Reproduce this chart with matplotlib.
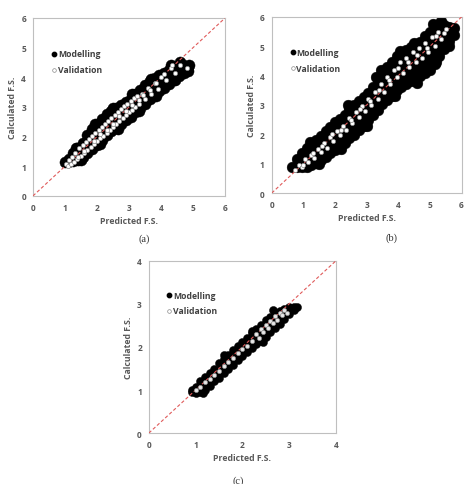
import matplotlib
matplotlib.use("Agg")
import matplotlib.pyplot as plt
import numpy as np

# ---- panel (a): modelling points (band), validation points ----
mod_a_x = [1.00,
           1.10, 1.11,
           1.25, 1.24, 1.26,
           1.40, 1.41, 1.39,
           1.55, 1.54, 1.56,
           1.70, 1.71, 1.69, 1.70,
           1.85, 1.84, 1.86, 1.85,
           2.00, 2.02, 1.98, 2.00,
           2.15, 2.14, 2.16, 2.15,
           2.30, 2.31, 2.29, 2.30,
           2.45, 2.44, 2.46, 2.45,
           2.60, 2.61, 2.59, 2.60,
           2.75, 2.74, 2.76, 2.75,
           2.90, 2.91, 2.89, 2.90,
           3.05, 3.04, 3.06, 3.05,
           3.20, 3.21, 3.19, 3.20,
           3.35, 3.34, 3.36, 3.35,
           3.50, 3.51, 3.49, 3.50,
           3.65, 3.64, 3.66, 3.65,
           3.80, 3.81, 3.79, 3.80,
           3.95, 3.94, 3.96, 3.95,
           4.10, 4.11, 4.09, 4.10,
           4.25, 4.24, 4.26, 4.25,
           4.40, 4.41, 4.39,
           4.55, 4.54, 4.56,
           4.70, 4.71, 4.69,
           4.85, 4.84, 4.86,
           1.35, 1.95, 2.50, 3.10, 3.70, 4.30, 4.60,
           1.50, 2.10, 2.65, 3.30, 3.85, 4.45]
mod_a_y = [1.13,
           1.14, 1.24,
           1.16, 1.30, 1.44,
           1.22, 1.42, 1.62,
           1.30, 1.55, 1.80,
           1.43, 1.64, 1.85, 2.05,
           1.58, 1.80, 2.02, 2.25,
           1.72, 1.95, 2.18, 2.40,
           1.88, 2.12, 2.35, 2.58,
           2.06, 2.30, 2.54, 2.76,
           2.18, 2.40, 2.62, 2.85,
           2.30, 2.52, 2.74, 2.95,
           2.44, 2.65, 2.86, 3.06,
           2.56, 2.78, 2.98, 3.16,
           2.66, 2.88, 3.08, 3.28,
           2.82, 3.02, 3.24, 3.44,
           2.96, 3.16, 3.38, 3.58,
           3.11, 3.32, 3.54, 3.74,
           3.25, 3.46, 3.66, 3.86,
           3.39, 3.58, 3.78, 3.96,
           3.52, 3.70, 3.88, 4.06,
           3.65, 3.82, 4.00, 4.16,
           3.78, 3.95, 4.12, 4.26,
           3.92, 4.10, 4.30,
           4.05, 4.22, 4.36,
           4.14, 4.28, 4.40,
           4.22, 4.34, 4.42,
           1.60, 2.42, 2.95, 3.42, 3.95, 4.42, 4.50,
           1.20, 1.76, 2.26, 2.86, 3.36, 3.90]
val_a_x = [1.02, 1.08, 1.12, 1.18, 1.22, 1.28, 1.32, 1.38, 1.45, 1.50,
           1.55, 1.60, 1.65, 1.70, 1.75, 1.80, 1.85, 1.90, 1.95, 2.00,
           2.05, 2.10, 2.15, 2.20, 2.25, 2.30, 2.35, 2.40, 2.45, 2.50,
           2.55, 2.60, 2.65, 2.70, 2.75, 2.80, 2.85, 2.90, 2.95, 3.00,
           3.05, 3.10, 3.15, 3.20, 3.25, 3.30, 3.40, 3.50, 3.60, 3.70,
           3.80, 3.90, 4.00, 4.15, 4.30, 4.45, 4.60, 4.80,
           1.40, 1.60, 1.90, 2.10, 2.30, 2.50, 2.70, 2.90, 3.10, 3.30,
           3.45, 3.65, 3.85, 4.10, 4.35]
val_a_y = [1.08, 1.02, 1.20, 1.08, 1.32, 1.15, 1.45, 1.25, 1.60, 1.35,
           1.72, 1.45, 1.82, 1.55, 1.92, 1.65, 2.02, 1.75, 2.12, 1.85,
           2.22, 1.95, 2.32, 2.02, 2.42, 2.12, 2.52, 2.22, 2.62, 2.32,
           2.72, 2.42, 2.82, 2.52, 2.92, 2.62, 3.02, 2.72, 3.10, 2.82,
           3.20, 2.90, 3.30, 3.00, 3.38, 3.10, 3.45, 3.25, 3.65, 3.45,
           3.80, 3.62, 4.00, 3.90, 4.30, 4.15, 4.40, 4.32,
           1.32, 1.52, 1.85, 2.08, 2.22, 2.42, 2.68, 2.85, 3.05, 3.22,
           3.40, 3.58, 3.80, 4.12, 4.40]

# ---- panel (b) ----
mod_b_x = [0.65,
           0.80, 0.80,
           0.95, 0.95, 0.95,
           1.10, 1.10, 1.10, 1.10,
           1.25, 1.25, 1.25, 1.25,
           1.40, 1.40, 1.40, 1.40,
           1.55, 1.55, 1.55, 1.55,
           1.70, 1.70, 1.70, 1.70,
           1.85, 1.85, 1.85, 1.85,
           2.00, 2.00, 2.00, 2.00,
           2.15, 2.15, 2.15, 2.15,
           2.30, 2.30, 2.30, 2.30,
           2.45, 2.45, 2.45, 2.45,
           2.60, 2.60, 2.60, 2.60,
           2.75, 2.75, 2.75, 2.75,
           2.90, 2.90, 2.90, 2.90,
           3.05, 3.05, 3.05, 3.05,
           3.20, 3.20, 3.20, 3.20,
           3.35, 3.35, 3.35, 3.35, 3.35,
           3.50, 3.50, 3.50, 3.50, 3.50,
           3.65, 3.65, 3.65, 3.65, 3.65,
           3.80, 3.80, 3.80, 3.80, 3.80,
           3.95, 3.95, 3.95, 3.95, 3.95,
           4.10, 4.10, 4.10, 4.10, 4.10,
           4.25, 4.25, 4.25, 4.25, 4.25,
           4.40, 4.40, 4.40, 4.40, 4.40,
           4.55, 4.55, 4.55, 4.55, 4.55,
           4.70, 4.70, 4.70, 4.70, 4.70,
           4.85, 4.85, 4.85, 4.85, 4.85,
           5.00, 5.00, 5.00, 5.00, 5.00,
           5.15, 5.15, 5.15, 5.15, 5.15,
           5.30, 5.30, 5.30, 5.30, 5.30,
           5.45, 5.45, 5.45, 5.45,
           5.60, 5.60, 5.60,
           5.75, 5.75,
           1.20, 2.40, 3.30, 3.45, 4.05, 4.50, 5.10, 5.35,
           1.50, 2.20, 3.00, 3.90, 4.60, 5.20, 5.60]
mod_b_y = [0.88,
           0.88, 1.15,
           0.88, 1.12, 1.36,
           0.90, 1.15, 1.38, 1.55,
           0.95, 1.22, 1.46, 1.68,
           1.02, 1.28, 1.55, 1.80,
           1.12, 1.40, 1.68, 1.94,
           1.24, 1.52, 1.80, 2.10,
           1.36, 1.64, 1.95, 2.26,
           1.48, 1.76, 2.06, 2.42,
           1.60, 1.90, 2.22, 2.52,
           1.72, 2.02, 2.35, 2.66,
           1.86, 2.16, 2.50, 2.86,
           1.98, 2.28, 2.62, 3.00,
           2.14, 2.44, 2.78, 3.12,
           2.30, 2.60, 2.94, 3.26,
           2.48, 2.78, 3.10, 3.42,
           2.66, 2.96, 3.30, 3.62,
           2.82, 3.10, 3.38, 3.64, 3.86,
           3.02, 3.30, 3.58, 3.86, 4.12,
           3.18, 3.46, 3.74, 4.02, 4.30,
           3.32, 3.60, 3.90, 4.20, 4.46,
           3.50, 3.78, 4.06, 4.36, 4.66,
           3.62, 3.90, 4.20, 4.50, 4.76,
           3.72, 4.00, 4.30, 4.60, 4.86,
           3.80, 4.08, 4.40, 4.70, 4.96,
           3.90, 4.18, 4.48, 4.78, 5.04,
           4.00, 4.28, 4.58, 4.88, 5.14,
           4.10, 4.40, 4.70, 5.02, 5.34,
           4.20, 4.50, 4.82, 5.16, 5.50,
           4.38, 4.70, 5.02, 5.36, 5.70,
           4.68, 4.98, 5.28, 5.56, 5.75,
           4.92, 5.20, 5.48, 5.72,
           5.18, 5.44, 5.66,
           5.38, 5.62,
           1.75, 3.00, 3.95, 4.20, 4.85, 5.10, 5.75, 5.85,
           0.98, 1.50, 2.30, 3.30, 3.75, 4.45, 5.00]
val_b_x = [0.75, 0.85, 0.95, 1.05, 1.15, 1.25, 1.35, 1.45, 1.55, 1.65,
           1.75, 1.85, 1.95, 2.05, 2.15, 2.25, 2.35, 2.45, 2.55, 2.65,
           2.75, 2.85, 2.95, 3.05, 3.15, 3.25, 3.35, 3.45, 3.55, 3.65,
           3.75, 3.85, 3.95, 4.05, 4.15, 4.25, 4.35, 4.45, 4.55, 4.65,
           4.75, 4.85, 4.95, 5.05, 5.15, 5.25, 5.35, 5.50,
           1.00, 1.30, 1.60, 1.90, 2.20, 2.50, 2.80, 3.10, 3.40, 3.70,
           4.00, 4.30, 4.60, 4.90, 5.20, 5.45]
val_b_y = [0.80, 0.95, 0.90, 1.15, 1.05, 1.30, 1.20, 1.50, 1.40, 1.72,
           1.55, 1.90, 1.78, 2.12, 1.98, 2.30, 2.15, 2.55, 2.40, 2.75,
           2.60, 2.95, 2.80, 3.20, 3.00, 3.45, 3.20, 3.70, 3.45, 3.95,
           3.70, 4.20, 3.95, 4.45, 4.10, 4.60, 4.30, 4.80, 4.45, 4.95,
           4.60, 5.10, 4.80, 5.30, 5.00, 5.50, 5.25, 5.60,
           0.95, 1.35, 1.60, 2.00, 2.15, 2.50, 2.85, 3.15, 3.50, 3.85,
           4.25, 4.45, 4.70, 4.95, 5.35, 5.45]

# ---- panel (c) ----
mod_c_x = [0.92, 0.92,
           1.00, 1.00,
           1.10, 1.10, 1.10,
           1.20, 1.20, 1.20,
           1.30, 1.30, 1.30,
           1.40, 1.40, 1.40,
           1.50, 1.50, 1.50,
           1.60, 1.60, 1.60,
           1.70, 1.70, 1.70,
           1.80, 1.80, 1.80,
           1.90, 1.90, 1.90,
           2.00, 2.00, 2.00,
           2.10, 2.10, 2.10,
           2.20, 2.20, 2.20,
           2.30, 2.30, 2.30,
           2.40, 2.40, 2.40,
           2.50, 2.50, 2.50,
           2.60, 2.60, 2.60,
           2.70, 2.70, 2.70,
           2.80, 2.80, 2.80,
           2.90, 2.90, 2.90,
           3.00, 3.00, 3.00,
           3.10, 3.10,
           3.18,
           2.20, 2.65, 1.60, 2.45, 1.15]
mod_c_y = [0.95, 1.00,
           0.94, 1.08,
           0.96, 1.12, 1.22,
           1.01, 1.15, 1.30,
           1.10, 1.24, 1.40,
           1.20, 1.34, 1.50,
           1.29, 1.44, 1.62,
           1.39, 1.55, 1.72,
           1.49, 1.65, 1.82,
           1.59, 1.75, 1.92,
           1.69, 1.85, 2.02,
           1.79, 1.95, 2.12,
           1.88, 2.04, 2.22,
           1.97, 2.14, 2.32,
           2.07, 2.24, 2.41,
           2.15, 2.32, 2.50,
           2.24, 2.42, 2.62,
           2.34, 2.52, 2.70,
           2.44, 2.62, 2.78,
           2.54, 2.70, 2.84,
           2.64, 2.78, 2.88,
           2.76, 2.88, 2.93,
           2.86, 2.94,
           2.92,
           2.38, 2.85, 1.82, 2.12, 0.92]
val_c_x = [1.00, 1.10, 1.20, 1.30, 1.40, 1.50, 1.60, 1.70, 1.80, 1.90,
           2.00, 2.10, 2.20, 2.30, 2.35, 2.40, 2.45, 2.50, 2.55, 2.60,
           2.65, 2.70, 2.75, 2.80, 2.85, 2.90, 2.95]
val_c_y = [1.00, 1.08, 1.18, 1.26, 1.36, 1.45, 1.55, 1.64, 1.74, 1.85,
           1.95, 2.02, 2.15, 2.30, 2.22, 2.42, 2.35, 2.52, 2.45, 2.60,
           2.55, 2.72, 2.62, 2.80, 2.75, 2.86, 2.80]

limits = [6, 6, 4]
tick_sets = [[0, 1, 2, 3, 4, 5, 6], [0, 1, 2, 3, 4, 5, 6], [0, 1, 2, 3, 4]]
panel_tags = ["(a)", "(b)", "(c)"]

GREY = "#595959"
SANS = "Open Sans"


def draw_panel(ax, mx, my, vx, vy, lim, ticks, msize, vface):
    ax.scatter(mx, my, s=msize, c="black", edgecolors="black",
               linewidths=0.3, zorder=2)
    ax.plot([0, lim], [0, lim], color="#e05a5a", lw=0.8,
            dashes=(3, 2), zorder=3)
    ax.scatter(vx, vy, s=9, facecolors=vface, edgecolors="#8c8c8c",
               linewidths=0.5, zorder=4)
    ax.set_xlim(0, lim)
    ax.set_ylim(0, lim)
    ax.set_xticks(ticks)
    ax.set_yticks(ticks)
    ax.tick_params(length=0, pad=5, labelsize=6, labelcolor=GREY)
    for lab in ax.get_xticklabels() + ax.get_yticklabels():
        lab.set_fontweight("bold")
        lab.set_family(SANS)
    for sp in ax.spines.values():
        sp.set_color("#bfbfbf")
        sp.set_linewidth(0.8)
    ax.set_xlabel("Predicted F.S.", fontsize=6.3, fontweight="bold",
                  color=GREY, family=SANS, labelpad=3)
    ax.set_ylabel("Calculated F.S.", fontsize=6.3, fontweight="bold",
                  color=GREY, family=SANS, labelpad=3)
    # manual legend, Excel style
    ax.scatter([0.11], [0.80], s=10, c="black", transform=ax.transAxes,
               zorder=5, clip_on=False)
    ax.scatter([0.11], [0.71], s=7, facecolors="white", edgecolors="#8c8c8c",
               linewidths=0.5, transform=ax.transAxes, zorder=5, clip_on=False)
    ax.text(0.13, 0.80, "Modelling", transform=ax.transAxes, fontsize=6.2,
            fontweight="bold", color="#404040", family=SANS, va="center")
    ax.text(0.13, 0.71, "Validation", transform=ax.transAxes, fontsize=6.2,
            fontweight="bold", color="#404040", family=SANS, va="center")


fig = plt.figure(figsize=(4.71, 4.85), dpi=100)
ax_a = fig.add_axes([0.070, 0.594, 0.408, 0.367])
ax_b = fig.add_axes([0.577, 0.600, 0.403, 0.363])
ax_c = fig.add_axes([0.316, 0.105, 0.397, 0.355])

draw_panel(ax_a, mod_a_x, mod_a_y, val_a_x, val_a_y, limits[0], tick_sets[0], 64, "white")
draw_panel(ax_b, mod_b_x, mod_b_y, val_b_x, val_b_y, limits[1], tick_sets[1], 60, "white")
draw_panel(ax_c, mod_c_x, mod_c_y, val_c_x, val_c_y, limits[2], tick_sets[2], 34, "#e6e6e6")

fig.text(144 / 471, 1 - 239 / 485, panel_tags[0], ha="center", va="center",
         fontsize=7.5, family="Liberation Serif", color="#333333")
fig.text(392 / 471, 1 - 238 / 485, panel_tags[1], ha="center", va="center",
         fontsize=7.5, family="Liberation Serif", color="#333333")
fig.text(238 / 471, 1 - 481 / 485, panel_tags[2], ha="center", va="center",
         fontsize=7.5, family="Liberation Serif", color="#333333")

fig.savefig("out.png", dpi=100)
plt.close(fig)
